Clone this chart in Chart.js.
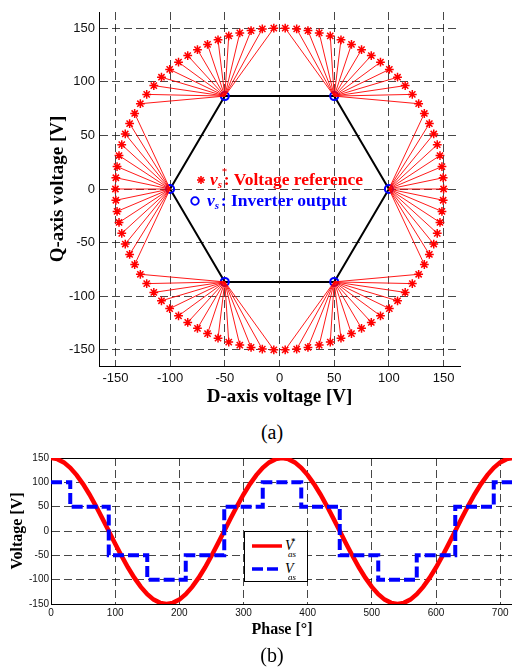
<!DOCTYPE html>
<html>
<head>
<meta charset="utf-8">
<script src="https://cdn.jsdelivr.net/npm/chart.js@4.4.1/dist/chart.umd.min.js"></script>
<style>
  html, body { margin: 0; padding: 0; background: #fff; }
  #page { position: relative; width: 512px; height: 670px; overflow: hidden; background: #fff; }
  #page canvas { position: absolute; left: 0; }
  .lg { position: absolute; font: bold 17.5px "Liberation Serif", "Times New Roman", serif; line-height: 20px; white-space: nowrap; }
  .lg i { font-style: italic; }
  .ss { position: relative; display: inline-block; width: 6px; height: 20px; vertical-align: top; }
  .ss .sb { position: absolute; left: 0; top: 5px; font-size: 11px; font-style: italic; }
  .ss .sp { position: absolute; left: 4px; top: -8px; font-size: 11px; font-weight: normal; }
  .mk { position: absolute; }
  .cap { position: absolute; left: 242px; width: 60px; text-align: center; font: 20px "Liberation Serif", "Times New Roman", serif; line-height: 24px; }
  #lgb { position: absolute; left: 244px; top: 531px; width: 62px; height: 49px; border: 1px solid #000; background: #fff; }
  #lgb .t { position: absolute; left: 40px; font: italic 14px "Liberation Serif", "Times New Roman", serif; line-height: 16px; }
  #lgb .t .sp { position: absolute; left: 6px; top: -5px; font-size: 9px; font-style: normal; }
  #lgb .t .sb { position: absolute; left: 3px; top: 8px; font-size: 9px; }
</style>
</head>
<body>
<div id="page">
  <canvas id="dq" width="512" height="412" style="top:0"></canvas>

  <svg class="mk" style="left:196px;top:175px" width="10" height="10" viewBox="-5 -5 10 10">
    <g stroke="#ff0000" stroke-width="1.6"><line x1="-4" y1="0" x2="4" y2="0"/><line x1="0" y1="-4" x2="0" y2="4"/><line x1="-2.8" y1="-2.8" x2="2.8" y2="2.8"/><line x1="-2.8" y1="2.8" x2="2.8" y2="-2.8"/></g>
  </svg>
  <div class="lg" style="left:210px;top:169px;color:#ff0000"><i>v</i><span class="ss"><span class="sb">s</span><span class="sp">*</span></span>: Voltage reference</div>
  <svg class="mk" style="left:189px;top:195px" width="12" height="12" viewBox="-6 -6 12 12">
    <circle cx="0" cy="0" r="3.8" fill="none" stroke="#0000ff" stroke-width="1.8"/>
  </svg>
  <div class="lg" style="left:207px;top:190px;color:#0000ff"><i>v</i><span class="ss"><span class="sb">s</span></span>: Inverter output</div>

  <div class="cap" style="top:420px">(a)</div>

  <canvas id="ph" width="514" height="194" style="top:448px"></canvas>

  <div id="lgb">
    <svg class="mk" style="left:7px;top:10px" width="32" height="8"><line x1="0" y1="4" x2="30" y2="4" stroke="#ff0000" stroke-width="3.5"/></svg>
    <div class="t" style="top:6px">V<span class="sp">*</span><span class="sb">as</span></div>
    <svg class="mk" style="left:7px;top:33px" width="32" height="8"><line x1="0" y1="4" x2="27" y2="4" stroke="#0000ff" stroke-width="3.5" stroke-dasharray="11 4"/></svg>
    <div class="t" style="top:29px">V<span class="sb">as</span></div>
  </div>

  <div class="cap" style="top:643px">(b)</div>
</div>

<script>
// (a) space-vector plane: reference points on the 150 V circle, inverter vertices
const refD = [150, 149.6, 148.5, 146.7, 144.2, 141.0, 137.0, 132.4, 127.2, 121.4, 114.9, 107.9, 100.4, 92.3, 83.9, 75.0, 65.8, 56.2, 46.4, 36.3, 26.0, 15.7, 5.2,
  -5.2, -15.7, -26.0, -36.3, -46.4, -56.2, -65.8, -75.0, -83.9, -92.3, -100.4, -107.9, -114.9, -121.4, -127.2, -132.4, -137.0, -141.0, -144.2, -146.7, -148.5, -149.6,
  -150,
  -149.6, -148.5, -146.7, -144.2, -141.0, -137.0, -132.4, -127.2, -121.4, -114.9, -107.9, -100.4, -92.3, -83.9, -75.0, -65.8, -56.2, -46.4, -36.3, -26.0, -15.7, -5.2,
  5.2, 15.7, 26.0, 36.3, 46.4, 56.2, 65.8, 75.0, 83.9, 92.3, 100.4, 107.9, 114.9, 121.4, 127.2, 132.4, 137.0, 141.0, 144.2, 146.7, 148.5, 149.6];
const refQ = [0, 10.5, 20.9, 31.2, 41.3, 51.3, 61.0, 70.4, 79.5, 88.2, 96.4, 104.2, 111.5, 118.2, 124.4, 129.9, 134.8, 139.1, 142.7, 145.5, 147.7, 149.2, 149.9,
  149.9, 149.2, 147.7, 145.5, 142.7, 139.1, 134.8, 129.9, 124.4, 118.2, 111.5, 104.2, 96.4, 88.2, 79.5, 70.4, 61.0, 51.3, 41.3, 31.2, 20.9, 10.5,
  0,
  -10.5, -20.9, -31.2, -41.3, -51.3, -61.0, -70.4, -79.5, -88.2, -96.4, -104.2, -111.5, -118.2, -124.4, -129.9, -134.8, -139.1, -142.7, -145.5, -147.7, -149.2, -149.9,
  -149.9, -149.2, -147.7, -145.5, -142.7, -139.1, -134.8, -129.9, -124.4, -118.2, -111.5, -104.2, -96.4, -88.2, -79.5, -70.4, -61.0, -51.3, -41.3, -31.2, -20.9, -10.5];
const invD = [100, 50, -50, -100, -50, 50];
const invQ = [0, 86.6, 86.6, 0, -86.6, -86.6];
const dqTicks = [-150, -100, -50, 0, 50, 100, 150];

// (b) phase-a voltage over two periods
const phase = [0, 10, 20, 30, 40, 50, 60, 70, 80, 90, 100, 110, 120, 130, 140, 150, 160, 170, 180,
  190, 200, 210, 220, 230, 240, 250, 260, 270, 280, 290, 300, 310, 320, 330, 340, 350, 360,
  370, 380, 390, 400, 410, 420, 430, 440, 450, 460, 470, 480, 490, 500, 510, 520, 530, 540,
  550, 560, 570, 580, 590, 600, 610, 620, 630, 640, 650, 660, 670, 680, 690, 700, 710, 720];
const vasRef = [150, 147.7, 141.0, 129.9, 114.9, 96.4, 75.0, 51.3, 26.0, 0, -26.0, -51.3, -75.0, -96.4, -114.9, -129.9, -141.0, -147.7, -150,
  -147.7, -141.0, -129.9, -114.9, -96.4, -75.0, -51.3, -26.0, 0, 26.0, 51.3, 75.0, 96.4, 114.9, 129.9, 141.0, 147.7, 150,
  147.7, 141.0, 129.9, 114.9, 96.4, 75.0, 51.3, 26.0, 0, -26.0, -51.3, -75.0, -96.4, -114.9, -129.9, -141.0, -147.7, -150,
  -147.7, -141.0, -129.9, -114.9, -96.4, -75.0, -51.3, -26.0, 0, 26.0, 51.3, 75.0, 96.4, 114.9, 129.9, 141.0, 147.7, 150];
const stepPhase = [0, 30, 90, 150, 210, 270, 330, 390, 450, 510, 570, 630, 690, 720];
const vasOut = [100, 50, -50, -100, -50, 50, 100, 50, -50, -100, -50, 50, 100, 100];
const phaseTicks = [0, 100, 200, 300, 400, 500, 600, 700];
const voltTicks = [-150, -100, -50, 0, 50, 100, 150];

const SANS = '"Liberation Sans", Arial, Helvetica, sans-serif';
const SERIF = '"Liberation Serif", "Times New Roman", serif';
const GRID = 'rgba(0,0,0,0.72)';

const pts = (xs, ys) => xs.map((x, i) => ({ x, y: ys[i] }));
const setTicks = (arr) => (s) => { s.ticks = arr.map((v) => ({ value: v })); };

// each reference point joined to its nearest inverter vertex
const fan = [];
refD.forEach((d, i) => {
  let best = 0, bd = Infinity;
  invD.forEach((vd, j) => {
    const dist = (d - vd) ** 2 + (refQ[i] - invQ[j]) ** 2;
    if (dist < bd) { bd = dist; best = j; }
  });
  fan.push({ x: d, y: refQ[i] }, { x: invD[best], y: invQ[best] }, { x: d, y: null });
});
const hexagon = pts(invD.concat(invD[0]), invQ.concat(invQ[0]));

function axis(min, max, ticks, title, size, pad, titlePad) {
  return {
    type: 'linear', min, max,
    afterBuildTicks: setTicks(ticks),
    ticks: { autoSkip: false, maxRotation: 0, color: '#111', padding: pad, font: { family: SANS, size: size.tick }, callback: (v) => String(v) },
    grid: { color: GRID, lineWidth: 1, drawTicks: false },
    border: { display: true, color: '#000', width: 1, dash: [8, 4] },
    title: { display: true, text: title, color: '#000', padding: titlePad, font: { family: SERIF, size: size.title, weight: 'bold' } },
  };
}

const dqX = axis(-165, 165, dqTicks, 'D-axis voltage [V]', { tick: 13, title: 19 }, 5, { top: 0, bottom: 4 });
dqX.afterFit = (s) => { s.height = 46; };
const dqY = axis(-165, 165, dqTicks, 'Q-axis voltage [V]', { tick: 13, title: 19 }, 4, { top: 47, bottom: 0 });
dqY.afterFit = (s) => { s.width = 99; };

new Chart(document.getElementById('dq'), {
  type: 'scatter',
  data: {
    datasets: [
      { data: pts(refD, refQ), pointStyle: 'star', pointRadius: 4.4, borderColor: '#ff0000', borderWidth: 1.5, showLine: false },
      { data: fan, showLine: true, spanGaps: false, borderColor: 'rgba(255,0,0,0.9)', borderWidth: 1, pointRadius: 0 },
      { data: pts(invD, invQ), pointStyle: 'circle', pointRadius: 4, borderColor: '#0000ff', borderWidth: 2, backgroundColor: 'rgba(0,0,0,0)', showLine: false },
      { data: hexagon, showLine: true, borderColor: '#000', borderWidth: 2, pointRadius: 0 },
    ],
  },
  options: {
    responsive: false, animation: false, events: [],
    layout: { padding: { top: 12, right: 52, bottom: 0, left: 0 } },
    plugins: { legend: { display: false }, tooltip: { enabled: false } },
    scales: { x: dqX, y: dqY },
  },
});

const phX = axis(0, 720, phaseTicks, 'Phase [°]', { tick: 10, title: 16 }, 3, { top: 0, bottom: 3 });
phX.afterFit = (s) => { s.height = 38; };
const phY = axis(-150, 150, voltTicks, 'Voltage [V]', { tick: 10, title: 16 }, 2, { top: 8, bottom: 0 });
phY.afterFit = (s) => { s.width = 51; };

new Chart(document.getElementById('ph'), {
  type: 'line',
  data: {
    datasets: [
      { data: pts(phase, vasRef), borderColor: '#ff0000', borderWidth: 4.5, pointRadius: 0, clip: 0, order: 2 },
      { data: pts(stepPhase, vasOut), stepped: true, borderColor: '#0000ff', borderWidth: 4, borderDash: [11, 4], pointRadius: 0, clip: 0, order: 1 },
    ],
  },
  options: {
    responsive: false, animation: false, events: [],
    layout: { padding: { top: 10, right: 1, bottom: 0, left: 0 } },
    plugins: { legend: { display: false }, tooltip: { enabled: false } },
    scales: {
      x: phX,
      y: phY,
      x2: { position: 'top', display: true, ticks: { display: false }, grid: { display: false, drawTicks: false }, border: { display: true, color: '#000', width: 1 }, afterFit: (s) => { s.height = 0; } },
    },
  },
});
</script>
</body>
</html>
